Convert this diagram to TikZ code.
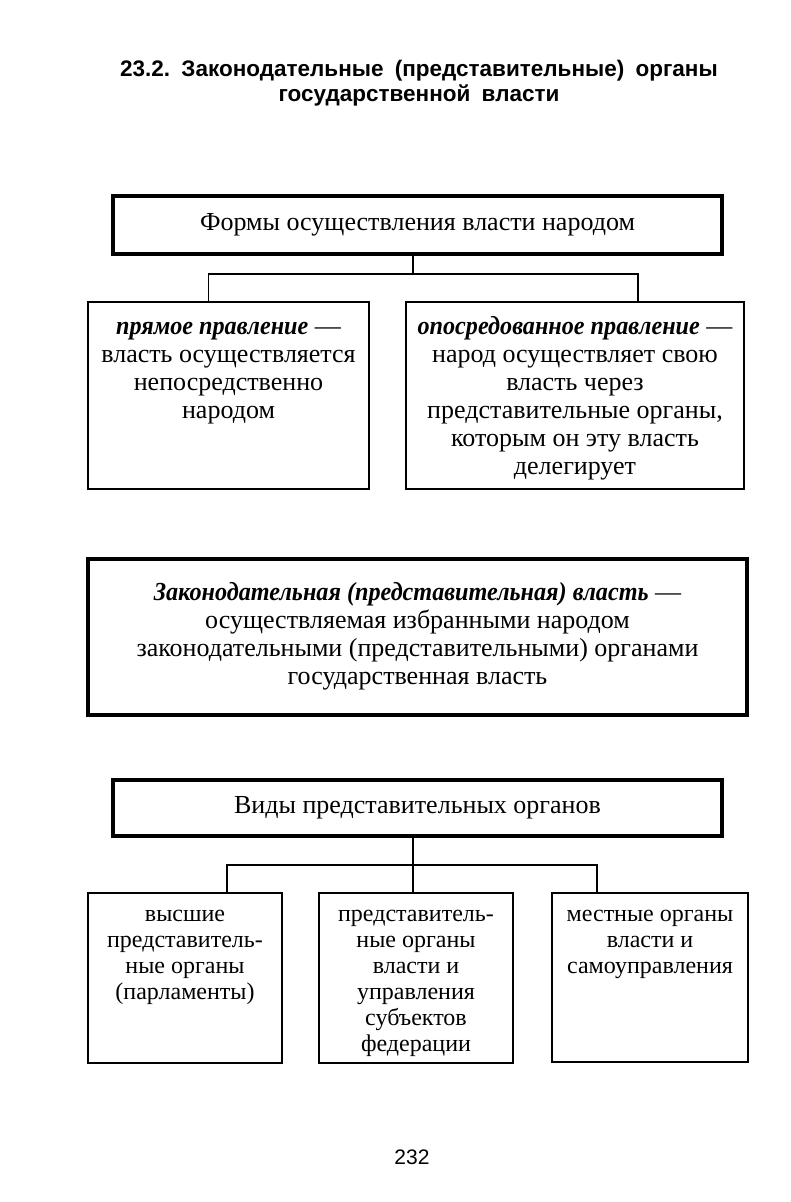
\documentclass[tikz,border=0pt]{standalone}
\usepackage{fontspec}
\setmainfont{Liberation Serif}
\newfontfamily\headfont{Liberation Sans}
\newcommand{\bitx}[1]{\scalebox{0.93}[1]{\textbf{\textit{#1}}}}
\newcommand{\wsp}{\hspace{0.5em}}
\begin{document}
\begin{tikzpicture}[x=1pt,y=-1pt,
  thickbox/.style={draw, line width=3.5pt, inner sep=0pt, outer sep=0pt, anchor=north west},
  thinbox/.style={draw, line width=1.2pt, inner sep=0pt, outer sep=0pt, anchor=north west},
  bigtxt/.style={font=\fontsize{26}{28}\selectfont, align=center, inner sep=0pt},
  smalltxt/.style={font=\fontsize{24}{26}\selectfont, align=center, inner sep=0pt},
  conn/.style={line width=1.2pt}]
\useasboundingbox (0,0) rectangle (790,1202);
\fill[white] (0,0) rectangle (790,1202);

\node[font=\headfont\bfseries\fontsize{22.5}{25}\selectfont, align=center, inner sep=0pt] (title) at (419,83)
  {23.2.\wsp Законодательные\wsp (представительные)\wsp органы\\государственной\wsp власти};

% top block
\node[thickbox, minimum width=609pt, minimum height=58pt] (f) at (113,196) {};
\node[bigtxt] (ft) at (f.center) {Формы осуществления власти народом};

\node[thinbox, minimum width=281pt, minimum height=187pt] (l) at (88,302) {};
\node[thinbox, minimum width=338pt, minimum height=187pt] (r) at (406,302) {};
\node[bigtxt, anchor=north] (lt) at ([yshift=-12.5pt]l.north)
  {\strut\bitx{прямое правление} —\\власть осуществляется\\непосредственно\\народом};
\node[bigtxt, anchor=north] (rt) at ([yshift=-12.5pt]r.north)
  {\strut\bitx{опосредованное правление} —\\народ осуществляет свою\\власть через\\представительные органы,\\которым он эту власть\\делегирует};

\coordinate (j1) at (413,274);
\draw[conn] (f.south -| j1) -- (j1);
\draw[conn] ([xshift=-20pt]l.north) |- (j1) -| ([xshift=63pt]r.north);

% middle block
\node[thickbox, minimum width=659pt, minimum height=156pt] (d) at (88,559) {};
\node[bigtxt, anchor=north] (dt) at ([yshift=-21.5pt]d.north)
  {\strut\bitx{Законодательная (представительная) власть} —\\осуществляемая избранными народом\\законодательными (представительными) органами\\государственная власть};

% bottom block
\node[thickbox, minimum width=609pt, minimum height=56pt] (v) at (113,780) {};
\node[bigtxt] (vt) at (v.center) {Виды представительных органов};

\node[thinbox, minimum width=194pt, minimum height=170pt] (a) at (88,893) {};
\node[thinbox, minimum width=194pt, minimum height=170pt] (b) at (319,893) {};
\node[thinbox, minimum width=196pt, minimum height=169pt] (c) at (552,893) {};
\node[smalltxt, anchor=north] (at) at ([yshift=-10pt]a.north)
  {\strut высшие\\представитель-\\ные органы\\(парламенты)};
\node[smalltxt, anchor=north] (bt) at ([yshift=-10pt]b.north)
  {\strut представитель-\\ные органы\\власти и\\управления\\субъектов\\федерации};
\node[smalltxt, anchor=north] (ct) at ([yshift=-10pt]c.north)
  {\strut местные органы\\власти и\\самоуправления};

\coordinate (j2) at (413,865);
\draw[conn] (v.south -| j2) -- (b.north -| j2);
\draw[conn] ([xshift=42pt]a.north) |- (j2) -| ([xshift=-53pt]c.north);

\node[font=\headfont\fontsize{21}{24}\selectfont, inner sep=0pt] (pg) at (412,1157) {232};
\end{tikzpicture}
\end{document}
